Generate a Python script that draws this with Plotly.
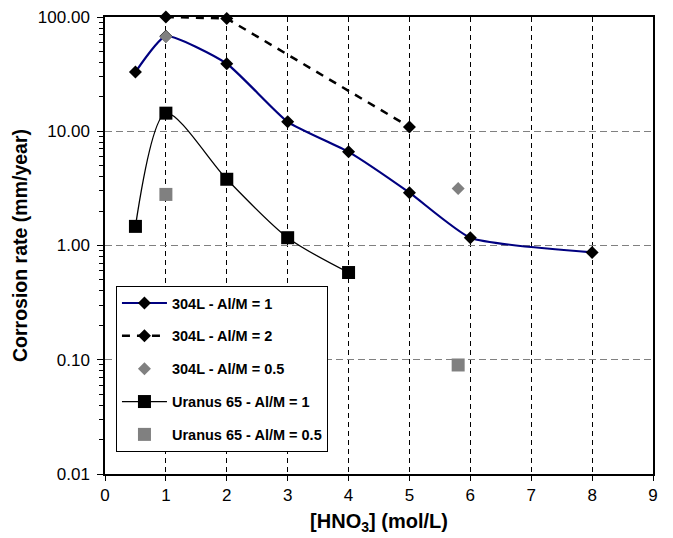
import plotly.graph_objects as go

# 304L - Al/M = 1
x_304_1 = [0.5, 1, 2, 3, 4, 5, 6, 8]
y_304_1 = [33, 68, 39, 12.1, 6.6, 2.9, 1.17, 0.87]
# 304L - Al/M = 2
x_304_2 = [1, 2, 5]
y_304_2 = [100, 97, 10.9]
# 304L - Al/M = 0.5
x_304_05 = [1, 5.8]
y_304_05 = [67, 3.16]
# Uranus 65 - Al/M = 1
x_u_1 = [0.5, 1, 2, 3, 4]
y_u_1 = [1.47, 14.4, 3.8, 1.17, 0.58]
# Uranus 65 - Al/M = 0.5
x_u_05 = [1, 5.8]
y_u_05 = [2.8, 0.09]

y_tickvals = [0.01, 0.1, 1, 10, 100]
y_ticktext = ["0.01", "0.10", "1.00", "10.00", "100.00"]
x_tickvals = list(range(0, 10))
y_minor = [m * 10.0 ** k for k in range(-2, 2) for m in range(2, 10)]

NAVY = "#000080"
GRAY = "#808080"
FONT = "Liberation Sans, Arial, sans-serif"

fig = go.Figure()
fig.add_trace(go.Scatter(
    x=x_304_1, y=y_304_1, name="304L - Al/M = 1", legendgroup="a",
    mode="lines+markers", line=dict(color=NAVY, width=2.2, shape="spline", smoothing=0.5),
    marker=dict(symbol="diamond", size=10, color="black")))
fig.add_trace(go.Scatter(
    x=x_304_2, y=y_304_2, name="304L - Al/M = 2", legendgroup="b",
    mode="lines+markers", line=dict(color="black", width=2.5, dash="8px,7px"),
    marker=dict(symbol="diamond", size=10, color="black"), cliponaxis=False))
fig.add_trace(go.Scatter(
    x=x_304_05, y=y_304_05, name="304L - Al/M = 0.5", legendgroup="c",
    mode="markers", marker=dict(symbol="diamond", size=10, color=GRAY)))
fig.add_trace(go.Scatter(
    x=x_u_1, y=y_u_1, name="Uranus 65 - Al/M = 1", legendgroup="d",
    mode="lines+markers", line=dict(color="black", width=1.3, shape="spline", smoothing=0.8),
    marker=dict(symbol="square", size=13, color="black")))
fig.add_trace(go.Scatter(
    x=x_u_05, y=y_u_05, name="Uranus 65 - Al/M = 0.5", legendgroup="e",
    mode="markers", marker=dict(symbol="square", size=13, color=GRAY)))

fig.update_layout(
    width=665, height=530,
    margin=dict(l=97, r=20, t=9, b=64, autoexpand=False),
    paper_bgcolor="white", plot_bgcolor="white",
    font=dict(family=FONT, size=17, color="black"),
    legend=dict(
        x=0.02, y=0.048, xanchor="left", yanchor="bottom",
        bgcolor="white", bordercolor="black", borderwidth=1,
        font=dict(size=14.5, family=FONT, weight="bold"),
        traceorder="grouped", tracegroupgap=11, itemwidth=45,
    ),
    xaxis=dict(
        range=[0, 9], tickvals=x_tickvals, showline=True, linecolor="black", linewidth=1.5,
        mirror=True, ticks="outside", ticklen=5, tickcolor="black",
        showgrid=True, gridcolor="black", griddash="5px,4px", gridwidth=1,
        zeroline=False, automargin=False, ticklabeloverflow="allow",
        title=dict(text="<b>[HNO<sub>3</sub>] (mol/L)</b>", font=dict(size=20), standoff=10),
    ),
    yaxis=dict(
        type="log", range=[-2, 2], tickvals=y_tickvals, ticktext=y_ticktext,
        showline=True, linecolor="black", linewidth=1.5, mirror=True,
        ticks="outside", ticklen=6, tickcolor="black", ticklabelstandoff=4,
        ticklabeloverflow="allow",
        minor=dict(ticks="outside", ticklen=4, tickcolor="black", showgrid=False,
                   tickvals=y_minor),
        showgrid=True, gridcolor=GRAY, griddash="7px,4px", gridwidth=1,
        zeroline=False, automargin=False,
        title=dict(text="<b>Corrosion rate (mm/year)</b>", font=dict(size=19.5), standoff=5),
    ),
)

fig.write_html("out.html")
